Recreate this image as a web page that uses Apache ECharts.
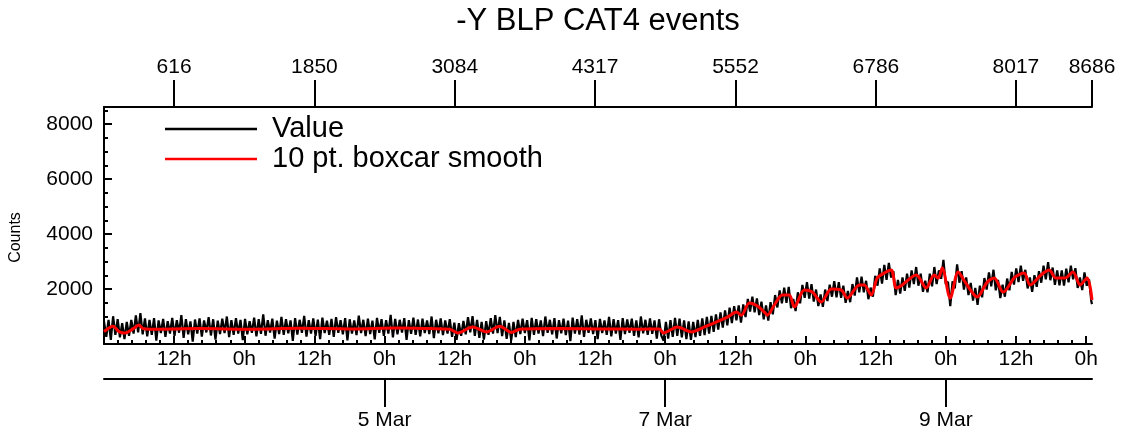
<!DOCTYPE html>
<html>
<head>
<meta charset="utf-8">
<script src="https://cdn.jsdelivr.net/npm/echarts@6/dist/echarts.min.js"></script>
<style>
  html, body { margin: 0; padding: 0; background: #fff; }
  #chart { width: 1125px; height: 441px; }
</style>
</head>
<body>
<div id="chart"></div>
<script>
// raw counts, one reading every 20 samples
const rawStep = 20
const lastSample = 8686
const rawCounts = [
  820, 260, 880, 150, 1010, 330, 900, 240, 760, 180,
  800, 300, 880, 380, 1040, 420, 1120, 350, 930, 280,
  880, 330, 940, 120, 860, 400, 910, 260, 830, 380,
  950, 300, 870, 410, 1050, 220, 900, 350, 820, 90,
  890, 380, 930, 270, 860, 420, 980, 310, 900, 160,
  850, 360, 920, 400, 1000, 250, 870, 330, 940, 380,
  880, 140, 910, 350, 830, 410, 960, 280, 900, 370,
  1080, 300, 870, 420, 920, 200, 850, 360, 990, 330,
  900, 390, 860, 110, 940, 340, 880, 410, 1020, 270,
  870, 380, 930, 300, 890, 180, 960, 400, 850, 330,
  910, 260, 980, 410, 870, 350, 940, 130, 900, 380,
  860, 320, 1030, 400, 880, 290, 920, 360, 850, 170,
  950, 410, 900, 300, 870, 380, 1060, 240, 910, 350,
  880, 420, 940, 150, 870, 370, 960, 330, 890, 280,
  920, 400, 860, 360, 1000, 210, 880, 390, 930, 320,
  860, 380, 900, 260, 780, 150, 760, 300, 840, 350,
  980, 420, 1010, 300, 880, 220, 800, 160, 830, 330,
  940, 380, 1050, 400, 990, 290, 860, 190, 770, 130,
  800, 250, 880, 360, 920, 400, 870, 130, 950, 330,
  900, 380, 860, 290, 1000, 410, 880, 350, 940, 200,
  870, 390, 920, 320, 850, 100, 960, 380, 900, 340,
  1040, 260, 880, 410, 930, 360, 870, 180, 910, 400,
  860, 330, 990, 280, 900, 380, 870, 150, 940, 360,
  890, 410, 920, 300, 860, 240, 1000, 390, 880, 330,
  930, 370, 860, 200, 900, 300,
  120, 800, 200, 870, 260, 950, 300, 920, 240, 860,
  180, 820, 150, 800, 250, 880, 300, 930, 320, 990,
  380, 1020, 440, 1080, 520, 1150, 600, 1220, 680, 1320,
  760, 1380, 860, 1400, 780, 1440, 980, 1640, 1180, 1720,
  1150, 1660, 1050, 1540, 900, 1400, 850, 1520, 1080, 1780,
  1330, 1950, 1480, 2050, 1500, 2080, 1300, 1640, 1200, 1880,
  1480, 2150, 1680, 2250, 1650, 2180, 1540, 1980, 1380, 1800,
  1350, 1980, 1560, 2160, 1720, 2290, 1700, 2250, 1680, 2120,
  1500, 1930, 1520, 2180, 1760, 2420, 1880, 2450, 1880, 2300,
  1630, 2050, 1720, 2480, 2120, 2750, 2200, 2880, 2330, 2950,
  2420, 2650, 1780, 2330, 1830, 2420, 1930, 2560, 2050, 2680,
  2180, 2800, 2120, 2560, 1900, 2300, 1880, 2560, 2100, 2800,
  2180, 2680, 2370, 3060, 2180, 2260, 1380, 2280, 2020, 2900,
  2230, 2650, 1980, 2420, 1780, 2220, 1580, 2040, 1420, 2120,
  1700, 2400, 1980, 2600, 2100, 2700, 1950, 2330, 1670, 2160,
  1720, 2380, 1950, 2620, 2160, 2750, 2250, 2850, 2300, 2700,
  2020, 2420, 1900, 2500, 2080, 2650, 2230, 2850, 2350, 2980,
  2320, 2780, 2150, 2680, 2130, 2680, 2120, 2740, 2240, 2850,
  2350, 2760, 2040, 2420, 1960, 2600, 2120, 2350, 1550, 1450
]

// 10 pt. boxcar smooth, read at its turning points (sample index, counts)
const smoothIdx = [
  0, 79, 132, 184, 255, 307, 343, 404, 843, 1282, 1721, 2161, 2600, 2863, 3039,
  3109, 3241, 3364, 3478, 3583, 3654, 4005, 4356, 4708, 4883,
  4918, 5041, 5164, 5279, 5481, 5560, 5604, 5674, 5744, 5806, 5832, 5894, 5964,
  6025, 6069, 6157, 6227, 6306, 6394, 6482, 6535, 6640, 6684, 6745, 6798, 6860,
  6921, 6965, 7018, 7141, 7228, 7299, 7334, 7369, 7439, 7510, 7571, 7677, 7764,
  7826, 7905, 8010, 8089, 8142, 8238, 8309, 8370, 8449, 8519, 8581, 8643, 8686
]
const smoothVal = [
  450, 650, 450, 400, 550, 690, 560, 540, 560, 540, 570, 550, 580, 560, 540,
  400, 620, 440, 650, 420, 540, 560, 550, 540, 550,
  400, 620, 440, 620, 980, 1160, 1050, 1490, 1380, 1160, 1050, 1420, 1780,
  1780, 1345, 1960, 1890, 1530, 2000, 1960, 1670, 2150, 2150, 1780, 2400, 2580,
  2690, 2040, 2150, 2510, 2040, 2510, 2400, 2760, 1670, 2620, 2250, 1710, 2250,
  2400, 1890, 2440, 2580, 2150, 2510, 2690, 2400, 2400, 2620, 2150, 2400, 1600
]

// top axis: sample numbers
const sampleTicks = [616, 1850, 3084, 4317, 5552, 6786, 8017, 8686]
// bottom axes in hours since 3 Mar 0h
const totalHours = 169
const hourTicks = [12, 24, 36, 48, 60, 72, 84, 96, 108, 120, 132, 144, 156, 168]
const dateTicks = [48, 96, 144]
const dateLabels = ['5 Mar', '7 Mar', '9 Mar']
const countTicks = [0, 2000, 4000, 6000, 8000]

const font = 'Liberation Sans, Arial, Helvetica, sans-serif'

const rawData = rawCounts.map((v, i) => [Math.min(i * rawStep, lastSample), v])
const smoothData = smoothIdx.map((x, i) => [x, smoothVal[i]])

// minor ticks: 5 per 12h, 4 per 2000 counts
const hourMinor = []
for (let h = 0; h <= totalHours; h += 2.4) {
  if (Math.abs(h / 12 - Math.round(h / 12)) > 0.01) hourMinor.push(+h.toFixed(1))
}
const countMinor = []
for (let c = 500; c < 8620; c += 500) {
  if (c % 2000 !== 0) countMinor.push(c)
}

const chart = echarts.init(document.getElementById('chart'))
const axisLine = { show: true, onZero: false, lineStyle: { color: '#000', width: 2 } }
const tickStyle = { width: 2, color: '#000' }
const plain = v => String(v)

chart.setOption({
  animation: false,
  backgroundColor: '#fff',
  title: {
    text: '-Y BLP CAT4 events',
    left: 598,
    textAlign: 'center',
    top: 6,
    padding: 0,
    textStyle: { fontFamily: font, fontSize: 31, fontWeight: 'normal', color: '#000' }
  },
  legend: {
    orient: 'vertical',
    left: 165,
    top: 114,
    padding: 0,
    itemGap: 0,
    itemWidth: 92,
    itemHeight: 2.5,
    icon: 'rect',
    textStyle: {
      fontFamily: font, fontSize: 29, color: '#000', lineHeight: 30,
      padding: [0, 0, 0, 10]
    },
    data: ['Value', '10 pt. boxcar smooth']
  },
  grid: { left: 104, right: 33, top: 107, bottom: 97 },
  xAxis: [
    {
      type: 'value', position: 'top', min: 0, max: lastSample,
      axisLine: axisLine,
      splitLine: { show: false },
      axisTick: { show: true, inside: false, length: 27, customValues: sampleTicks, lineStyle: tickStyle },
      axisLabel: { customValues: sampleTicks, margin: 29, fontFamily: font, fontSize: 21, color: '#000', formatter: plain }
    },
    {
      type: 'value', position: 'bottom', min: 0, max: totalHours,
      axisLine: axisLine,
      splitLine: { show: false },
      axisTick: { show: true, inside: true, length: 8, customValues: hourTicks, lineStyle: tickStyle },
      axisLabel: {
        customValues: hourTicks, margin: 5, fontFamily: font, fontSize: 21, color: '#000',
        formatter: v => (v % 24 === 0 ? '0h' : '12h')
      }
    },
    {
      type: 'value', position: 'bottom', min: 0, max: totalHours,
      axisLine: { show: false, onZero: false },
      splitLine: { show: false },
      axisTick: { show: true, inside: true, length: 4, customValues: hourMinor, lineStyle: tickStyle },
      axisLabel: { show: false }
    },
    {
      type: 'value', position: 'bottom', offset: 35, min: 0, max: totalHours,
      axisLine: axisLine,
      splitLine: { show: false },
      axisTick: { show: true, inside: false, length: 28, customValues: dateTicks, lineStyle: tickStyle },
      axisLabel: {
        customValues: dateTicks, margin: 31, fontFamily: font, fontSize: 21, color: '#000',
        formatter: v => dateLabels[dateTicks.indexOf(v)]
      }
    }
  ],
  yAxis: [
    {
      type: 'value', position: 'left', min: 0, max: 8620,
      name: 'Counts', nameLocation: 'middle', nameGap: 80, nameRotate: 90,
      nameTextStyle: { fontFamily: font, fontSize: 16, color: '#000', padding: [0, 24, 0, 0] },
      axisLine: axisLine,
      splitLine: { show: false },
      axisTick: { show: true, inside: true, length: 8, customValues: countTicks, lineStyle: tickStyle },
      axisLabel: {
        customValues: countTicks.slice(1), margin: 11, fontFamily: font, fontSize: 21, color: '#000',
        formatter: plain
      }
    },
    {
      type: 'value', position: 'left', min: 0, max: 8620,
      axisLine: { show: false, onZero: false },
      splitLine: { show: false },
      axisTick: { show: true, inside: true, length: 4, customValues: countMinor, lineStyle: tickStyle },
      axisLabel: { show: false }
    }
  ],
  series: [
    {
      name: 'Value', type: 'line', xAxisIndex: 0, yAxisIndex: 0,
      data: rawData, symbol: 'none', sampling: null,
      lineStyle: { color: '#000', width: 2.2 }, itemStyle: { color: '#000' },
      z: 2
    },
    {
      name: '10 pt. boxcar smooth', type: 'line', xAxisIndex: 0, yAxisIndex: 0,
      data: smoothData, symbol: 'none', smooth: 0.3,
      lineStyle: { color: '#ff0000', width: 3 }, itemStyle: { color: '#ff0000' },
      z: 3
    }
  ]
})
</script>
</body>
</html>
